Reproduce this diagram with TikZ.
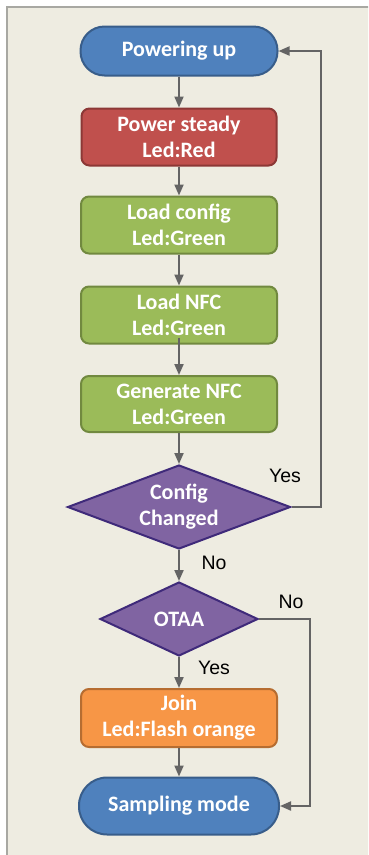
\documentclass[tikz,border=0pt]{standalone}
\usepackage{fontspec}
\setmainfont{Carlito}
\newfontfamily\labelfont{Liberation Sans}
\usetikzlibrary{shapes.geometric,arrows.meta}

\definecolor{panel}{HTML}{EEECE1}
\definecolor{panelline}{HTML}{A8A8A2}
\definecolor{wire}{HTML}{646464}
\definecolor{bluefill}{HTML}{4F81BD}
\definecolor{blueline}{HTML}{385D8A}
\definecolor{redfill}{HTML}{C0504D}
\definecolor{redline}{HTML}{8C3836}
\definecolor{greenfill}{HTML}{9BBB59}
\definecolor{greenline}{HTML}{71893F}
\definecolor{purplefill}{HTML}{8064A2}
\definecolor{purpleline}{HTML}{3F2A7A}
\definecolor{orangefill}{HTML}{F79646}
\definecolor{orangeline}{HTML}{B66D31}

\tikzset{
  base/.style={line width=2pt, text=white, align=center, inner sep=0pt,
    font=\fontsize{22}{26}\selectfont\bfseries},
  terminal/.style={base, rectangle, rounded corners=24pt, draw=blueline, fill=bluefill},
  stepbox/.style={base, rectangle, rounded corners=8pt},
  decision/.style={base, diamond, draw=purpleline, fill=purplefill},
  flow/.style={draw=wire, line width=2pt, -{Triangle[length=11pt,width=9pt]}},
  answer/.style={font=\labelfont\fontsize{19.5}{22}\selectfont, text=black}
}

\begin{document}
\begin{tikzpicture}[x=1pt, y=-1pt]
  \clip (0,0) rectangle (368,855);
  \fill[white] (0,0) rectangle (368,855);
  \draw[panelline, fill=panel, line width=2pt] (7,7) rectangle (390,880);

  \node[terminal, minimum width=197pt, minimum height=49pt] (pu) at (179,51) {Powering up};
  \node[stepbox, draw=redline, fill=redfill, minimum width=195pt, minimum height=57pt] (ps) at (179,137) {Power steady\\Led:Red};
  \node[stepbox, draw=greenline, fill=greenfill, minimum width=196pt, minimum height=57pt] (lc) at (179,225) {Load config\\Led:Green};
  \node[stepbox, draw=greenline, fill=greenfill, minimum width=196pt, minimum height=57pt] (ln) at (179,315) {Load NFC\\Led:Green};
  \node[stepbox, draw=greenline, fill=greenfill, minimum width=196pt, minimum height=56pt] (gn) at (179,404) {Generate NFC\\Led:Green};
  \node[decision, aspect=2.65, minimum width=223pt, minimum height=84pt] (cc) at (179,507) {Config\\Changed};
  \node[decision, aspect=2.13, minimum width=158pt, minimum height=74pt] (ot) at (179,619) {OTAA};
  \node[stepbox, draw=orangeline, fill=orangefill, minimum width=196pt, minimum height=58pt] (jn) at (179,718) {Join\\Led:Flash orange};
  \node[terminal, rounded corners=28pt, minimum width=200pt, minimum height=57pt] (sm) at (179,806) {Sampling mode};

  \coordinate (yesturn) at (321,507);
  \coordinate (yestop) at (321,51);
  \coordinate (noturn) at (310,619);
  \coordinate (nobottom) at (310,806);

  \draw[flow] (pu) -- (ps);
  \draw[flow] (ps) -- (lc);
  \draw[flow] (lc) -- (ln);
  \draw[flow] ([yshift=7pt]ln.south) -- (gn);
  \draw[flow] (gn) -- (cc);
  \draw[flow] (cc) -- (ot);
  \draw[flow] (ot) -- (jn);
  \draw[flow] (jn) -- (sm);
  \draw[flow] (cc.east) -- (yesturn) -- (yestop) -- (pu.east);
  \draw[flow] (ot.east) -- (noturn) -- (nobottom) -- (sm.east);

  \node[answer] (lyes1) at (285,476) {Yes};
  \node[answer] (lno1) at (214,563) {No};
  \node[answer] (lno2) at (291,602) {No};
  \node[answer] (lyes2) at (214,668) {Yes};
\end{tikzpicture}
\end{document}
